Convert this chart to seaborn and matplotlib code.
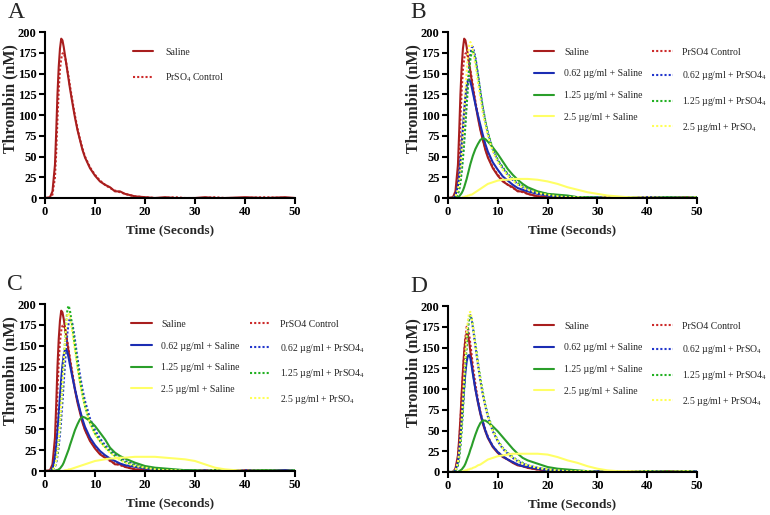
import matplotlib
matplotlib.use("Agg")
import matplotlib.pyplot as plt
import seaborn as sns
import pandas as pd

# time grid (seconds), shared by every trace
t = [0, 1, 1.5, 2, 2.25, 2.5, 2.75, 3, 3.25, 3.5, 3.75, 4, 4.25, 4.5, 4.75, 5, 5.5, 6, 6.5, 7,
     7.5, 8, 9, 10, 11, 12, 13, 14, 15, 16, 18, 20, 22, 24, 26, 28, 30, 32, 34, 36, 40, 44, 48, 50]

# thrombin (nM)
saline = [0, 1, 8, 40, 80, 125, 158, 180, 192, 190, 182, 172, 162, 152, 142, 132, 114, 97, 82, 70,
          58, 49, 36, 27, 20, 16, 13, 8, 8, 5, 2, 1, 0, 1, 0, 0, 0, 1, 0, 0, 1, 0, 1, 0]
control = [0, 0, 4, 25, 55, 95, 130, 155, 168, 174, 175, 170, 163, 154, 145, 135, 117, 99, 84, 71,
           60, 50, 37, 28, 21, 16, 12, 9, 7, 5, 2, 1, 0, 0, 1, 0, 0, 0, 1, 0, 0, 1, 0, 0]

b_062_sal = [0, 0, 3, 15, 28, 45, 65, 85, 105, 122, 135, 142, 143, 140, 134, 127, 113, 100, 88, 76,
             65, 56, 43, 34, 26, 21, 16, 12, 10, 8, 5, 3, 1, 1, 0, 0, 1, 0, 0, 0, 1, 0, 0, 1]
b_062_prs = [0, 0, 1, 6, 12, 22, 35, 52, 72, 95, 118, 140, 160, 174, 181, 182, 170, 150, 128, 108,
             92, 78, 58, 45, 36, 28, 22, 17, 13, 11, 7, 4, 3, 2, 1, 1, 0, 0, 1, 0, 0, 1, 0, 0]
b_125_sal = [0, 0, 0, 1, 2, 4, 6, 9, 13, 18, 23, 29, 35, 41, 46, 51, 59, 65, 70, 72,
             71, 68, 61, 53, 44, 35, 28, 22, 17, 13, 8, 5, 4, 3, 1, 1, 0, 0, 1, 0, 0, 1, 0, 1]
b_125_prs = [0, 0, 1, 5, 10, 19, 31, 47, 66, 88, 111, 133, 152, 167, 176, 178, 168, 149, 128, 109,
             93, 79, 59, 46, 37, 29, 23, 18, 14, 11, 7, 5, 3, 2, 1, 1, 1, 0, 0, 1, 0, 0, 1, 0]
b_25_sal = [0, 0, 0, 0, 0, 0, 0, 1, 1, 2, 2, 3, 3, 4, 4, 5, 7, 9, 11, 13,
            15, 17, 19, 21, 22, 22, 23, 23, 23, 23, 22, 20, 17, 13, 10, 7, 5, 3, 2, 1, 0, 0, 0, 0]
b_25_prs = [0, 0, 2, 10, 20, 35, 55, 78, 102, 128, 152, 172, 184, 188, 185, 178, 160, 140, 120, 102,
            88, 75, 56, 43, 34, 27, 21, 16, 13, 10, 6, 4, 2, 1, 1, 0, 0, 1, 0, 0, 1, 0, 0, 1]

c_062_sal = [0, 0, 3, 16, 30, 48, 68, 90, 110, 127, 139, 145, 146, 142, 135, 127, 112, 98, 85, 73,
             62, 53, 40, 31, 24, 19, 15, 12, 9, 7, 5, 3, 2, 1, 0, 1, 0, 0, 1, 0, 0, 0, 1, 0]
c_062_prs = [0, 0, 1, 5, 10, 18, 29, 44, 62, 83, 106, 128, 149, 166, 178, 183, 176, 157, 135, 115,
             98, 84, 63, 49, 39, 31, 25, 20, 16, 12, 8, 5, 3, 2, 1, 1, 0, 1, 0, 0, 1, 0, 0, 1]
c_125_sal = [0, 0, 0, 0, 1, 1, 2, 3, 5, 7, 10, 14, 18, 22, 26, 31, 40, 49, 56, 62,
             65, 64, 60, 54, 46, 38, 28, 22, 18, 15, 10, 6, 4, 3, 2, 1, 1, 0, 1, 0, 0, 1, 0, 1]
c_125_prs = [0, 0, 1, 6, 12, 22, 36, 55, 78, 102, 128, 155, 178, 194, 198, 192, 172, 150, 128, 108,
             92, 78, 58, 45, 36, 29, 23, 18, 14, 11, 7, 4, 3, 2, 1, 0, 1, 0, 0, 1, 0, 1, 0, 0]
c_25_sal = [0, 0, 0, 0, 0, 0, 0, 0, 0, 0, 0, 1, 1, 1, 2, 2, 3, 4, 5, 6,
            7, 8, 10, 12, 13, 14, 15, 15, 16, 16, 17, 17, 17, 16, 15, 14, 12, 8, 4, 2, 0, 0, 0, 0]
c_25_prs = [0, 0, 1, 6, 13, 24, 39, 58, 80, 105, 130, 155, 175, 188, 189, 183, 165, 144, 123, 105,
            90, 77, 57, 44, 35, 28, 22, 17, 13, 10, 6, 4, 2, 1, 1, 0, 0, 0, 1, 0, 0, 0, 0, 0]

d_saline = [0, 0, 4, 20, 40, 65, 95, 122, 145, 160, 167, 165, 157, 145, 133, 120, 100, 84, 70, 58,
            49, 41, 30, 23, 18, 15, 11, 8, 7, 5, 3, 2, 1, 0, 1, 0, 0, 1, 0, 0, 0, 1, 0, 0]
d_control = [0, 0, 3, 17, 36, 60, 90, 118, 143, 162, 175, 174, 166, 154, 141, 128, 106, 88, 73, 61,
             51, 43, 31, 24, 19, 15, 12, 9, 7, 5, 3, 2, 1, 1, 0, 0, 1, 0, 0, 1, 0, 0, 1, 0]
d_062_sal = [0, 0, 2, 12, 25, 42, 62, 82, 102, 120, 133, 140, 141, 137, 128, 118, 100, 85, 71, 60,
             50, 42, 31, 24, 19, 15, 12, 9, 7, 6, 4, 2, 1, 1, 0, 0, 1, 0, 0, 0, 1, 0, 0, 1]
d_062_prs = [0, 0, 2, 10, 20, 35, 55, 80, 106, 132, 156, 176, 187, 189, 184, 174, 152, 130, 110, 93,
             79, 67, 49, 37, 28, 22, 17, 13, 10, 8, 5, 3, 2, 1, 1, 0, 0, 1, 0, 0, 1, 0, 0, 1]
d_125_sal = [0, 0, 0, 0, 1, 2, 3, 5, 7, 10, 14, 18, 22, 27, 31, 36, 45, 53, 59, 62,
             62, 60, 55, 49, 42, 35, 28, 22, 17, 14, 10, 6, 4, 3, 2, 1, 0, 1, 0, 0, 1, 0, 1, 0]
d_125_prs = [0, 0, 1, 8, 17, 31, 50, 74, 100, 127, 152, 172, 185, 188, 185, 176, 155, 133, 113, 96,
             81, 69, 51, 38, 29, 23, 18, 14, 11, 8, 5, 3, 2, 1, 0, 1, 0, 0, 1, 0, 0, 1, 0, 0]
d_25_sal = [0, 0, 0, 0, 0, 0, 0, 1, 1, 2, 2, 3, 3, 4, 4, 5, 6, 8, 9, 11,
            13, 15, 17, 19, 20, 21, 22, 22, 22, 22, 22, 21, 18, 14, 11, 7, 4, 2, 1, 1, 0, 0, 0, 0]
d_25_prs = [0, 0, 2, 12, 24, 40, 62, 88, 115, 142, 166, 183, 192, 193, 186, 175, 152, 130, 110, 93,
            79, 67, 49, 37, 28, 22, 17, 13, 10, 8, 5, 3, 2, 1, 1, 1, 0, 1, 0, 0, 1, 0, 1, 0]

sal_labels = ["Saline", "0.62 µg/ml + Saline", "1.25 µg/ml + Saline", "2.5 µg/ml + Saline"]
prs_labels_bc = ["PrSO4 Control", "0.62 µg/ml + PrSO4$_4$", "1.25 µg/ml + PrSO4$_4$", "2.5 µg/ml + PrSO$_4$"]
prs_labels_d = ["PrSO4 Control", "0.62 µg/ml + PrSO$_4$", "1.25 µg/ml + PrSO4$_4$", "2.5 µg/ml + PrSO4$_4$"]

solid_colors = ["#A81E1E", "#1B2DB3", "#2A9E2A", "#FFFF66"]
dot_colors = ["#CC2A2A", "#2236CC", "#22B022", "#FFFF55"]
DOT = (0, (1, 1))

sns.set_theme(style="ticks")
plt.rcParams["font.family"] = ["Liberation Serif", "DejaVu Serif"]
plt.rcParams["mathtext.fontset"] = "custom"
plt.rcParams["mathtext.rm"] = "Liberation Serif"
plt.rcParams["mathtext.default"] = "regular"

fig = plt.figure(figsize=(7.7, 5.15), dpi=100)
ax_a = fig.add_axes([0.0584, 0.6155, 0.3247, 0.3223])
ax_b = fig.add_axes([0.5818, 0.6155, 0.3234, 0.3223])
ax_c = fig.add_axes([0.0584, 0.0854, 0.3247, 0.3243])
ax_d = fig.add_axes([0.5818, 0.0835, 0.3234, 0.3223])


def style_axes(ax, letter):
    ax.set_xlim(0, 50)
    ax.set_ylim(0, 200)
    ax.set_xticks([0, 10, 20, 30, 40, 50])
    ax.set_yticks(range(0, 201, 25))
    sns.despine(ax=ax)
    for s in ["left", "bottom"]:
        ax.spines[s].set_linewidth(1.5)
        ax.spines[s].set_color("black")
    ax.tick_params(direction="out", length=4, width=1.5, labelsize=9, pad=2, colors="black")
    for lab in ax.get_xticklabels() + ax.get_yticklabels():
        lab.set_fontweight("bold")
    ax.set_xlabel("Time (Seconds)", fontsize=9.6, fontweight="bold", labelpad=4)
    ax.set_ylabel("Thrombin (nM)", fontsize=11.5, fontweight="bold")
    ax.yaxis.set_label_coords(-0.106, 0.6)
    ax.text(-0.15, 1.18, letter, transform=ax.transAxes, fontsize=17, va="top", ha="left")


def draw(ax, sal_sets, prs_sets, sal_names, prs_names):
    for i in range(len(sal_sets)):
        sns.lineplot(x=t, y=prs_sets[i], ax=ax, color=dot_colors[i], linestyle=DOT, lw=1.5,
                     label=prs_names[i])
        sns.lineplot(x=t, y=sal_sets[i], ax=ax, color=solid_colors[i], lw=1.5, label=sal_names[i])
    h, l = ax.get_legend_handles_labels()
    lookup = dict(zip(l, h))
    order = list(sal_names) + list(prs_names)
    ncol = 1 if len(sal_sets) == 1 else 2
    ax.legend([lookup[k] for k in order], order, ncol=ncol, loc="upper left",
              bbox_to_anchor=(0.345, 0.905), frameon=False, fontsize=7, handlelength=2.1,
              handletextpad=1.0, columnspacing=1.0, labelspacing=1.3, borderpad=0,
              borderaxespad=0)


draw(ax_a, [saline], [control], ["Saline"], ["PrSO$_4$ Control"])
draw(ax_b, [saline, b_062_sal, b_125_sal, b_25_sal], [control, b_062_prs, b_125_prs, b_25_prs],
     sal_labels, prs_labels_bc)
draw(ax_c, [saline, c_062_sal, c_125_sal, c_25_sal], [control, c_062_prs, c_125_prs, c_25_prs],
     sal_labels, prs_labels_bc)
draw(ax_d, [d_saline, d_062_sal, d_125_sal, d_25_sal], [d_control, d_062_prs, d_125_prs, d_25_prs],
     sal_labels, prs_labels_d)

# panel A legend sits a little looser
ax_a.get_legend().remove()
h, l = ax_a.get_legend_handles_labels()
ax_a.legend([h[1], h[0]], [l[1], l[0]], loc="upper left", bbox_to_anchor=(0.352, 0.905),
            frameon=False, fontsize=7, handlelength=2.1, handletextpad=1.2, labelspacing=1.5,
            borderpad=0, borderaxespad=0)

for ax, letter in zip([ax_a, ax_b, ax_c, ax_d], "ABCD"):
    style_axes(ax, letter)

fig.savefig("out.png", dpi=100)
